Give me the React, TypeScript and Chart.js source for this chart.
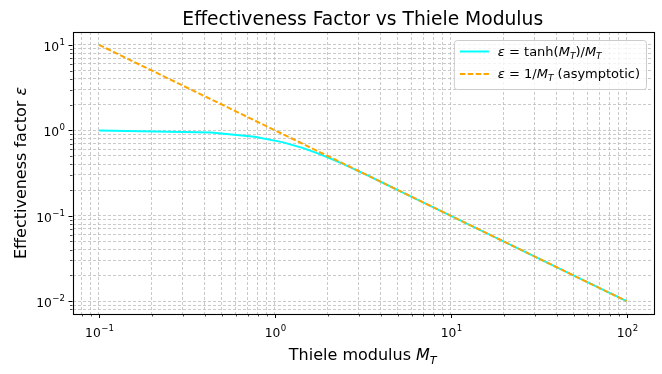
import React, { useEffect, useRef } from 'react';
import { Chart, registerables } from 'chart.js';

Chart.register(...registerables);

const FONT = '"DejaVu Sans", "Liberation Sans", sans-serif';

// Thiele modulus samples (x) and the two curves
const thieleModulus = [0.1, 0.434, 0.768, 1.102, 1.436, 1.77, 2.104, 2.438, 2.772, 3.106, 3.44, 4.108, 5.11, 7.115, 10.1, 20.1, 50.2, 100];
const effTanh = [0.9967, 0.9416, 0.8409, 0.7271, 0.6218, 0.5331, 0.4614, 0.404, 0.3579, 0.3207, 0.2901, 0.2433, 0.1957, 0.1405, 0.099, 0.0498, 0.0199, 0.01];
const effAsym = [10, 2.304, 1.302, 0.9074, 0.6964, 0.565, 0.4753, 0.4102, 0.3608, 0.322, 0.2907, 0.2434, 0.1957, 0.1405, 0.099, 0.0498, 0.0199, 0.01];

const X_MIN = 0.0708;
const X_MAX = 141.25;
const Y_MIN = 0.00708;
const Y_MAX = 14.125;

const TITLE = 'Effectiveness Factor vs Thiele Modulus';

type Seg = { t: string; it?: boolean; sub?: boolean };

const xLabel: Seg[] = [{ t: 'Thiele modulus ' }, { t: 'M', it: true }, { t: 'T', it: true, sub: true }];
const yLabel: Seg[] = [{ t: 'Effectiveness factor ' }, { t: 'ε', it: true }];
const legendTanh: Seg[] = [
  { t: 'ε', it: true }, { t: ' = ' }, { t: 'tanh' }, { t: '(' }, { t: 'M', it: true }, { t: 'T', it: true, sub: true },
  { t: ')/' }, { t: 'M', it: true }, { t: 'T', it: true, sub: true },
];
const legendAsym: Seg[] = [
  { t: 'ε', it: true }, { t: ' = ' }, { t: '1/' }, { t: 'M', it: true }, { t: 'T', it: true, sub: true }, { t: ' (asymptotic)' },
];

const CYAN = '#00ffff';
const ORANGE = '#ffa500';
const ORANGE_DASH = [5.5, 2.4];
const TICK_FS = 12.3;

function buildLogTicks(min: number, max: number) {
  const out: { value: number; major: boolean }[] = [];
  for (let e = Math.floor(Math.log10(min)); e <= Math.ceil(Math.log10(max)); e++) {
    for (let m = 1; m <= 9; m++) {
      const v = parseFloat((m * Math.pow(10, e)).toPrecision(6));
      if (v >= min && v <= max) out.push({ value: v, major: m === 1 });
    }
  }
  return out;
}

function decadeExp(v: number): string | null {
  const l = Math.log10(v);
  const r = Math.round(l);
  if (Math.abs(l - r) > 1e-6) return null;
  return String(r).replace('-', '\u2212');
}

function segFont(s: Seg, size: number) {
  const sz = s.sub ? size * 0.7 : size;
  return `${s.it ? 'italic ' : ''}${sz}px ${FONT}`;
}
function measureRich(ctx: CanvasRenderingContext2D, segs: Seg[], size: number) {
  let w = 0;
  for (const s of segs) {
    ctx.font = segFont(s, size);
    w += ctx.measureText(s.t).width;
  }
  return w;
}
function drawRich(ctx: CanvasRenderingContext2D, segs: Seg[], x: number, y: number, size: number) {
  let cx = x;
  ctx.textAlign = 'left';
  ctx.textBaseline = 'alphabetic';
  for (const s of segs) {
    ctx.font = segFont(s, size);
    ctx.fillText(s.t, cx, s.sub ? y + size * 0.22 : y);
    cx += ctx.measureText(s.t).width;
  }
}

// draws "10^e" with left edge at x and "10" baseline at y; returns width if measureOnly
function powerLabel(ctx: CanvasRenderingContext2D, exp: string, x: number, y: number, draw: boolean) {
  ctx.font = `${TICK_FS}px ${FONT}`;
  const w1 = ctx.measureText('10').width;
  ctx.font = `${TICK_FS * 0.7}px ${FONT}`;
  const w2 = ctx.measureText(exp).width;
  if (draw) {
    ctx.textAlign = 'left';
    ctx.textBaseline = 'alphabetic';
    ctx.font = `${TICK_FS}px ${FONT}`;
    ctx.fillText('10', x, y);
    ctx.font = `${TICK_FS * 0.7}px ${FONT}`;
    ctx.fillText(exp, x + w1 + 0.5, y - TICK_FS * 0.45);
  }
  return w1 + 0.5 + w2;
}

const decorPlugin = {
  id: 'decor',
  afterDraw(chart: any) {
    const ctx: CanvasRenderingContext2D = chart.ctx;
    const a = chart.chartArea;
    const xs = chart.scales.x;
    const ys = chart.scales.y;
    ctx.save();
    ctx.strokeStyle = '#000';
    ctx.fillStyle = '#000';
    // tick marks and tick labels
    for (const t of xs.ticks) {
      const px = Math.round(xs.getPixelForValue(t.value)) + 0.5;
      const len = t.major ? 4 : 2.5;
      ctx.lineWidth = t.major ? 1 : 0.7;
      ctx.beginPath();
      ctx.moveTo(px, a.bottom);
      ctx.lineTo(px, a.bottom + len);
      ctx.stroke();
      const e = decadeExp(t.value);
      if (e !== null) {
        const w = powerLabel(ctx, e, 0, 0, false);
        powerLabel(ctx, e, px - w / 2, a.bottom + 23, true);
      }
    }
    for (const t of ys.ticks) {
      const py = Math.round(ys.getPixelForValue(t.value)) + 0.5;
      const len = t.major ? 4 : 2.5;
      ctx.lineWidth = t.major ? 1 : 0.7;
      ctx.beginPath();
      ctx.moveTo(a.left, py);
      ctx.lineTo(a.left - len, py);
      ctx.stroke();
      const e = decadeExp(t.value);
      if (e !== null) {
        const w = powerLabel(ctx, e, 0, 0, false);
        powerLabel(ctx, e, a.left - 7.5 - w, py + 5.5, true);
      }
    }
    // frame
    ctx.lineWidth = 1.1;
    ctx.strokeRect(Math.round(a.left) + 0.5, Math.round(a.top) + 0.5, Math.round(a.right - a.left), Math.round(a.bottom - a.top));

    // title
    ctx.font = `18.7px ${FONT}`;
    ctx.textAlign = 'center';
    ctx.textBaseline = 'alphabetic';
    ctx.fillText(TITLE, (a.left + a.right) / 2, 25);

    // x label
    const xw = measureRich(ctx, xLabel, 16);
    drawRich(ctx, xLabel, (a.left + a.right) / 2 - xw / 2, 360, 16);

    // y label
    const yw = measureRich(ctx, yLabel, 16);
    ctx.save();
    ctx.translate(25.5, (a.top + a.bottom) / 2);
    ctx.rotate(-Math.PI / 2);
    drawRich(ctx, yLabel, -yw / 2, 0, 16);
    ctx.restore();

    // legend
    const fs = 13;
    const tw = Math.max(measureRich(ctx, legendTanh, fs), measureRich(ctx, legendAsym, fs));
    const boxW = 44 + tw + 6;
    const boxH = 49;
    const right = a.right - 7;
    const top = a.top + 8;
    const left = right - boxW;
    ctx.beginPath();
    (ctx as any).roundRect(left + 0.5, top + 0.5, boxW, boxH, 3);
    ctx.fillStyle = 'rgba(255,255,255,0.8)';
    ctx.fill();
    ctx.strokeStyle = '#cccccc';
    ctx.lineWidth = 1;
    ctx.stroke();

    const rows = [
      { segs: legendTanh, color: CYAN, dash: [] as number[], y: top + 11.5 },
      { segs: legendAsym, color: ORANGE, dash: ORANGE_DASH, y: top + 34 },
    ];
    for (const r of rows) {
      ctx.save();
      ctx.strokeStyle = r.color;
      ctx.lineWidth = 2;
      ctx.setLineDash(r.dash);
      ctx.beginPath();
      ctx.moveTo(left + 6, r.y);
      ctx.lineTo(left + 35, r.y);
      ctx.stroke();
      ctx.restore();
      ctx.fillStyle = '#000';
      drawRich(ctx, r.segs, left + 44, r.y + 4.2, fs);
    }
    ctx.restore();
  },
};

function axisOpts(min: number, max: number, fit: (s: any) => void) {
  return {
    type: 'logarithmic' as const,
    min,
    max,
    bounds: 'data' as const,
    afterBuildTicks: (s: any) => {
      s.ticks = buildLogTicks(min, max);
    },
    afterFit: fit,
    grid: {
      color: '#bdbdbd',
      lineWidth: 0.8,
      drawTicks: false,
    },
    border: { display: false, dash: [3, 2] },
    ticks: {
      display: false,
      autoSkip: false,
    },
  };
}

export default function App() {
  const ref = useRef<HTMLCanvasElement | null>(null);
  useEffect(() => {
    if (!ref.current) return;
    const chart = new Chart(ref.current, {
      type: 'line',
      data: {
        datasets: [
          {
            label: 'tanh',
            data: thieleModulus.map((x, i) => ({ x, y: effTanh[i] })),
            borderColor: CYAN,
            borderWidth: 2,
            pointRadius: 0,
            tension: 0,
            fill: false,
            order: 1,
          },
          {
            label: 'asym',
            data: thieleModulus.map((x, i) => ({ x, y: effAsym[i] })),
            borderColor: ORANGE,
            borderWidth: 2,
            borderDash: ORANGE_DASH,
            pointRadius: 0,
            tension: 0,
            fill: false,
            order: 0,
          },
        ],
      },
      options: {
        animation: false,
        responsive: false,
        devicePixelRatio: 1,
        events: [],
        layout: { padding: { top: 32, right: 9, left: 0, bottom: 0 } },
        plugins: { legend: { display: false }, title: { display: false }, tooltip: { enabled: false } },
        scales: {
          x: axisOpts(X_MIN, X_MAX, (s: any) => { s.height = 60; }),
          y: axisOpts(Y_MIN, Y_MAX, (s: any) => { s.width = 72.5; }),
        },
      } as any,
      plugins: [decorPlugin],
    });
    return () => chart.destroy();
  }, []);
  return (
    <div style={{ position: 'fixed', left: 0, top: 0, width: 662, height: 374, background: '#fff' }}>
      <canvas ref={ref} width={662} height={374} style={{ display: 'block' }} />
    </div>
  );
}
